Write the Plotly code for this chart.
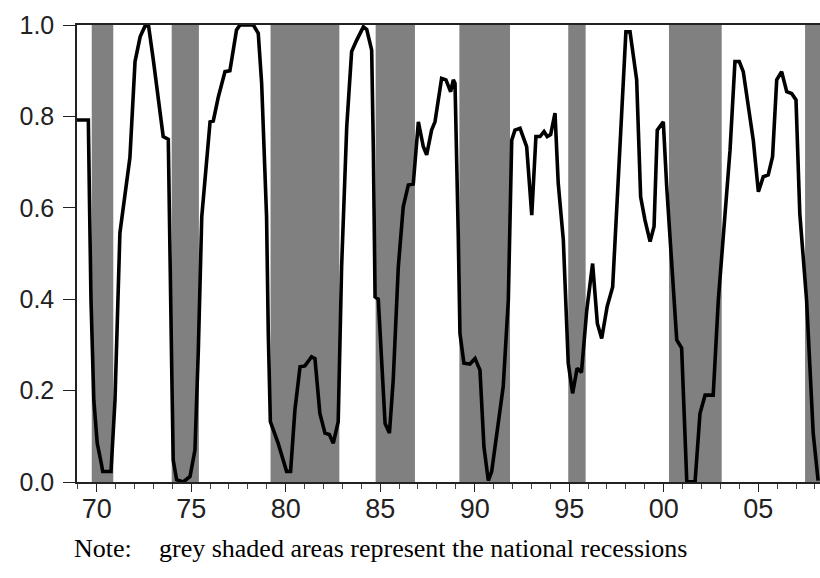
import plotly.graph_objects as go

# ---- data ----
years = [1968.96, 1969.56, 1969.62, 1969.70, 1969.85, 1970.03, 1970.25, 1970.32, 1970.76, 1970.97,
         1971.23, 1971.50, 1971.76, 1972.03, 1972.30, 1972.56, 1972.74, 1973.00, 1973.26, 1973.52,
         1973.79, 1973.88, 1973.97, 1974.05, 1974.23, 1974.58, 1974.94, 1975.20, 1975.38, 1975.56,
         1975.82, 1976.00, 1976.17, 1976.44, 1976.79, 1977.05, 1977.40, 1977.58, 1978.29, 1978.55,
         1978.73, 1978.99, 1979.08, 1979.19, 1979.60, 1980.05, 1980.26, 1980.49, 1980.76, 1981.02,
         1981.37, 1981.55, 1981.81, 1982.08, 1982.31, 1982.52, 1982.78, 1982.96, 1983.23, 1983.49,
         1983.76, 1984.11, 1984.29, 1984.55, 1984.64, 1984.73, 1984.90, 1985.08, 1985.26, 1985.49,
         1985.69, 1985.96, 1986.22, 1986.49, 1986.75, 1987.02, 1987.28, 1987.46, 1987.72, 1987.90,
         1988.25, 1988.48, 1988.73, 1988.87, 1988.96, 1989.13, 1989.22, 1989.43, 1989.75, 1990.02,
         1990.28, 1990.49, 1990.72, 1990.90, 1991.16, 1991.51, 1991.78, 1991.96, 1992.13, 1992.40,
         1992.75, 1993.02, 1993.24, 1993.46, 1993.67, 1993.84, 1994.02, 1994.25, 1994.42, 1994.69,
         1994.95, 1995.18, 1995.42, 1995.65, 1995.93, 1996.24, 1996.49, 1996.72, 1997.01, 1997.30,
         1997.54, 1997.78, 1998.00, 1998.22, 1998.57, 1998.78, 1999.01, 1999.28, 1999.49, 1999.66,
         1999.98, 2000.16, 2000.42, 2000.69, 2000.95, 2001.22, 2001.66, 2001.92, 2002.19, 2002.62,
         2002.89, 2003.15, 2003.51, 2003.77, 2004.00, 2004.21, 2004.74, 2005.01, 2005.27, 2005.53,
         2005.76, 2005.98, 2006.24, 2006.51, 2006.77, 2007.00, 2007.20, 2007.56, 2007.91, 2008.17]

values = [0.792, 0.792, 0.617, 0.398, 0.179, 0.085, 0.040, 0.023, 0.023, 0.179,
          0.545, 0.632, 0.710, 0.920, 0.974, 0.998, 1.000, 0.923, 0.836, 0.756,
          0.750, 0.550, 0.252, 0.048, 0.005, 0.000, 0.012, 0.070, 0.289, 0.580,
          0.710, 0.788, 0.790, 0.843, 0.898, 0.900, 0.989, 1.000, 1.000, 0.982,
          0.872, 0.580, 0.326, 0.132, 0.085, 0.023, 0.023, 0.158, 0.252, 0.254,
          0.274, 0.270, 0.150, 0.107, 0.104, 0.085, 0.132, 0.471, 0.777, 0.942,
          0.967, 0.996, 0.990, 0.945, 0.726, 0.405, 0.400, 0.252, 0.128, 0.107,
          0.223, 0.471, 0.602, 0.650, 0.652, 0.788, 0.734, 0.716, 0.770, 0.788,
          0.883, 0.880, 0.854, 0.880, 0.872, 0.544, 0.325, 0.260, 0.258, 0.270,
          0.245, 0.077, 0.003, 0.023, 0.099, 0.209, 0.398, 0.748, 0.770, 0.774,
          0.734, 0.584, 0.756, 0.756, 0.767, 0.756, 0.760, 0.807, 0.654, 0.530,
          0.260, 0.194, 0.249, 0.240, 0.376, 0.478, 0.347, 0.314, 0.384, 0.427,
          0.617, 0.814, 0.985, 0.985, 0.880, 0.624, 0.573, 0.526, 0.559, 0.770,
          0.788, 0.646, 0.471, 0.311, 0.293, 0.003, 0.000, 0.150, 0.190, 0.190,
          0.398, 0.544, 0.726, 0.920, 0.920, 0.898, 0.748, 0.635, 0.668, 0.672,
          0.712, 0.880, 0.898, 0.854, 0.850, 0.836, 0.588, 0.398, 0.107, 0.003]

recession_start = [1969.74, 1973.97, 1979.20, 1984.76, 1989.19, 1994.95, 2000.28, 2007.48]
recession_end = [1970.88, 1975.41, 1982.84, 1986.84, 1991.87, 1995.87, 2003.07, 2008.27]

x_tick_vals = [1970, 1975, 1980, 1985, 1990, 1995, 2000, 2005]
x_tick_text = ["70", "75", "80", "85", "90", "95", "00", "05"]
y_tick_vals = [0.0, 0.2, 0.4, 0.6, 0.8, 1.0]
y_tick_text = ["0.0", "0.2", "0.4", "0.6", "0.8", "1.0"]

note_label = "Note:"
note_text = "grey shaded areas represent the national recessions"

# ---- figure ----
fig = go.Figure()
fig.add_trace(go.Scatter(x=years, y=values, mode="lines",
                         line=dict(color="black", width=3.6), showlegend=False,
                         hoverinfo="skip"))

shapes = []
for s, e in zip(recession_start, recession_end):
    shapes.append(dict(type="rect", xref="x", yref="paper", x0=s, x1=e, y0=0, y1=1,
                       fillcolor="#808080", line=dict(width=0), layer="below"))
fig.update_layout(shapes=shapes)

fig.update_xaxes(range=[1968.96, 2008.27], tickmode="array", tickvals=x_tick_vals,
                 ticktext=x_tick_text, ticks="outside", ticklen=8, tickwidth=1,
                 tickcolor="#222", showline=True, linecolor="#222", linewidth=1.5,
                 mirror=True, showgrid=False, zeroline=False, ticklabelstandoff=-6,
                 minor=dict(dtick=1, tick0=1970, ticks="outside", ticklen=5,
                            tickcolor="#444", showgrid=False),
                 tickfont=dict(family="Liberation Sans, Arial", size=27, color="#222"))
fig.update_yaxes(range=[0, 1], tickmode="array", tickvals=y_tick_vals,
                 ticktext=y_tick_text, ticks="outside", ticklen=12, tickwidth=1,
                 tickcolor="#222", showline=True, linecolor="#222", linewidth=1.5,
                 showgrid=False, zeroline=False, ticklabelstandoff=4,
                 tickfont=dict(family="Liberation Sans, Arial", size=25, color="#222"))

fig.add_annotation(text=note_label, xref="paper", yref="paper", x=(72 - 77) / 743,
                   y=(482 - 548) / 457, xanchor="left", yanchor="middle", showarrow=False,
                   font=dict(family="Liberation Serif, Times New Roman", size=26, color="black"))
fig.add_annotation(text=note_text, xref="paper", yref="paper", x=(157 - 77) / 743,
                   y=(482 - 548) / 457, xanchor="left", yanchor="middle", showarrow=False,
                   font=dict(family="Liberation Serif, Times New Roman", size=26, color="black"))

fig.update_layout(width=820, height=578, margin=dict(l=77, r=0, t=25, b=96),
                  plot_bgcolor="white", paper_bgcolor="white")

fig.write_html("out.html")
